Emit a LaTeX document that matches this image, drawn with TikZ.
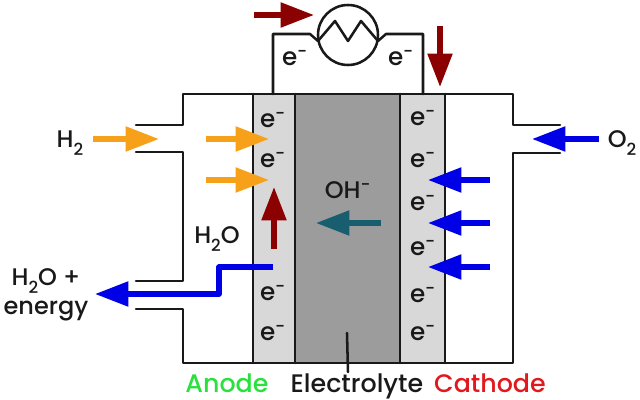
\documentclass[tikz,border=0pt]{standalone}
\usepackage{fontspec}
\setmainfont{Poppins Medium}
\usepackage{tikz}
\usetikzlibrary{arrows.meta}
\usepackage{xcolor}
\definecolor{wirered}{RGB}{139,0,0}
\definecolor{fuelorange}{RGB}{247,160,26}
\definecolor{oxblue}{RGB}{0,0,230}
\definecolor{ionteal}{RGB}{24,94,110}
\definecolor{plategray}{RGB}{216,216,216}
\definecolor{electrolytegray}{RGB}{156,156,156}
\definecolor{anodegreen}{RGB}{40,225,60}
\definecolor{cathodered}{RGB}{225,25,30}
\tikzset{
  wall/.style={line width=1.9pt,line cap=round,line join=round,black!90},
  fatarrow/.style={line width=3.9pt,-{Triangle[length=25pt,width=18pt]}},
  label/.style={font=\fontsize{18}{20}\selectfont,inner sep=0pt,text=black!90},
  elec/.style={font=\fontsize{18.5}{20}\selectfont,inner sep=0pt,text=black!90},
  part/.style={font=\fontsize{19}{20}\selectfont,inner sep=0pt,anchor=base,text=black!90},
}
\newcommand{\elect}{e\textsuperscript{-}}
\newcommand{\subtwo}{\raisebox{-0.35em}{\fontsize{12.5}{12.5}\selectfont 2}}
\begin{document}
\begin{tikzpicture}[x=0.75pt,y=-0.75pt]
    \useasboundingbox (0,0) rectangle (640,400);

    % Plates and electrolyte
    \fill[plategray] (253,94) rectangle (295,363);
    \fill[plategray] (400,94) rectangle (445,363);
    \fill[electrolytegray] (295,94) rectangle (400,363);
    \draw[wall] (253,94) -- (253,363);
    \draw[wall] (295,94) -- (295,363);
    \draw[wall] (400,94) -- (400,363);
    \draw[wall] (445,94) -- (445,363);

    % Housing
    \draw[wall] (136,125) -- (183,125) -- (183,94) -- (513,94) -- (513,125) -- (560,125);
    \draw[wall] (136,152) -- (183,152) -- (183,281) -- (136,281);
    \draw[wall] (136,309) -- (183,309) -- (183,363) -- (513,363) -- (513,153) -- (560,153);
    \draw[wall] (347,333) -- (348,372);

    % External circuit
    \draw[wall] (273,94) -- (273,34) -- (310,34) -- (318,41);
    \draw[wall] (423,94) -- (423,34) -- (386,34) -- (378,41);
    \draw[wall,fill=white] (348,35) circle (30);
    \draw[wall] (318,41) -- (335,21) -- (348,41) -- (361,21) -- (378,41);

    % Electrons
    \node[elec] (anodeea) at (273,120) {\elect};
    \node[elec] (anodeeb) at (273,160) {\elect};
    \node[elec] (anodeec) at (273,293) {\elect};
    \node[elec] (anodeed) at (273,333) {\elect};
    \node[elec] (cathea) at (423,118) {\elect};
    \node[elec] (catheb) at (423,160) {\elect};
    \node[elec] (cathec) at (423,203) {\elect};
    \node[elec] (cathed) at (423,248) {\elect};
    \node[elec] (cathee) at (423,295) {\elect};
    \node[elec] (cathef) at (423,333) {\elect};
    \node[elec] (wireea) at (295,58) {\elect};
    \node[elec] (wireeb) at (401,58) {\elect};

    % Arrows
    \draw[fatarrow,wirered] (254,15) -- (314,15);
    \draw[fatarrow,wirered] (440,26) -- (440,87);
    \draw[fatarrow,wirered] (274,249) -- (274,187);
    \draw[fatarrow,fuelorange] (93,139) -- (159,139);
    \draw[fatarrow,fuelorange] (206,139) -- (269,139);
    \draw[fatarrow,fuelorange] (206,180) -- (269,180);
    \draw[fatarrow,oxblue] (599,139) -- (532,139);
    \draw[fatarrow,oxblue] (490,180) -- (428,180);
    \draw[fatarrow,oxblue] (490,223) -- (428,223);
    \draw[fatarrow,oxblue] (490,267) -- (428,267);
    \draw[fatarrow,ionteal] (381,223) -- (316,223);
    \draw[fatarrow,oxblue,line join=round] (273,267) -- (219,267) -- (219,294) -- (95,294);

    % Labels
    \node[label] (hydrogen) at (70,143) {H\subtwo};
    \node[label] (oxygen) at (622,143) {O\subtwo};
    \node[label] (ion) at (348,190) {OH\textsuperscript{-}};
    \node[label] (water) at (217,239) {H\subtwo O};
    \node[label] (waterout) at (46,281) {H\subtwo O +};
    \node[label] (energy) at (46,311) {energy};
    \node[part,text=anodegreen] (anode) at (227,392) {Anode};
    \node[part] (electrolyte) at (357,392) {Electrolyte};
    \node[part,text=cathodered] (cathode) at (490,392) {Cathode};
\end{tikzpicture}
\end{document}
